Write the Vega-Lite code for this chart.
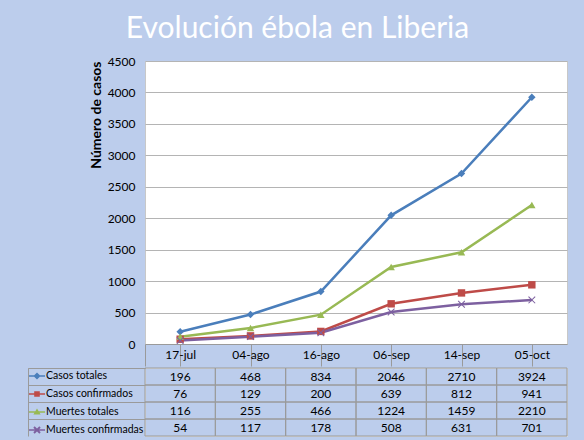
{
  "$schema": "https://vega.github.io/schema/vega-lite/v6.json",
  "background": "#bccdec",
  "padding": {"left": 27, "top": 13, "right": 18, "bottom": 4},
  "title": {
    "text": "Evolución ébola en Liberia",
    "font": "Lato",
    "fontSize": 30,
    "fontWeight": "normal",
    "color": "white",
    "anchor": "middle",
    "offset": 11
  },
  "datasets": {
    "ebola": [
      {"fecha": "17-jul", "serie": "Casos totales", "casos": 196},
      {"fecha": "04-ago", "serie": "Casos totales", "casos": 468},
      {"fecha": "16-ago", "serie": "Casos totales", "casos": 834},
      {"fecha": "06-sep", "serie": "Casos totales", "casos": 2046},
      {"fecha": "14-sep", "serie": "Casos totales", "casos": 2710},
      {"fecha": "05-oct", "serie": "Casos totales", "casos": 3924},
      {"fecha": "17-jul", "serie": "Casos confirmados", "casos": 76},
      {"fecha": "04-ago", "serie": "Casos confirmados", "casos": 129},
      {"fecha": "16-ago", "serie": "Casos confirmados", "casos": 200},
      {"fecha": "06-sep", "serie": "Casos confirmados", "casos": 639},
      {"fecha": "14-sep", "serie": "Casos confirmados", "casos": 812},
      {"fecha": "05-oct", "serie": "Casos confirmados", "casos": 941},
      {"fecha": "17-jul", "serie": "Muertes totales", "casos": 116},
      {"fecha": "04-ago", "serie": "Muertes totales", "casos": 255},
      {"fecha": "16-ago", "serie": "Muertes totales", "casos": 466},
      {"fecha": "06-sep", "serie": "Muertes totales", "casos": 1224},
      {"fecha": "14-sep", "serie": "Muertes totales", "casos": 1459},
      {"fecha": "05-oct", "serie": "Muertes totales", "casos": 2210},
      {"fecha": "17-jul", "serie": "Muertes confirmadas", "casos": 54},
      {"fecha": "04-ago", "serie": "Muertes confirmadas", "casos": 117},
      {"fecha": "16-ago", "serie": "Muertes confirmadas", "casos": 178},
      {"fecha": "06-sep", "serie": "Muertes confirmadas", "casos": 508},
      {"fecha": "14-sep", "serie": "Muertes confirmadas", "casos": 631},
      {"fecha": "05-oct", "serie": "Muertes confirmadas", "casos": 701}
    ]
  },
  "data": {"name": "ebola"},
  "resolve": {"scale": {"color": "independent", "shape": "independent"}},
  "spacing": 0,
  "vconcat": [
    {
      "width": 422,
      "height": 283,
      "view": {"fill": "white", "stroke": "#c8c8c8"},
      "encoding": {
        "x": {
          "field": "fecha",
          "type": "ordinal",
          "sort": ["17-jul", "04-ago", "16-ago", "06-sep", "14-sep", "05-oct"],
          "scale": {"paddingInner": 0, "paddingOuter": 0},
          "axis": {
            "title": null,
            "labelAngle": 0,
            "bandPosition": 0,
            "tickExtra": true,
            "tickSize": 22,
            "tickColor": "#9a9a9a",
            "domainColor": "#9a9a9a",
            "labelPadding": -17,
            "labelFont": "Lato",
            "labelFontSize": 12,
            "labelColor": "black"
          }
        },
        "y": {
          "field": "casos",
          "type": "quantitative",
          "scale": {"domain": [0, 4500], "nice": false},
          "axis": {
            "values": [0, 500, 1000, 1500, 2000, 2500, 3000, 3500, 4000, 4500],
            "format": "d",
            "title": "Número de casos",
            "titleFont": "Lato",
            "titleFontSize": 14,
            "titleFontWeight": "bold",
            "titleColor": "black",
            "titleAnchor": "end",
            "titlePadding": 4,
            "ticks": false,
            "domain": false,
            "labelPadding": 10,
            "labelFont": "Lato",
            "labelFontSize": 12,
            "labelColor": "black",
            "gridColor": "#b4b4b4"
          }
        },
        "color": {
          "field": "serie",
          "type": "nominal",
          "scale": {
            "domain": ["Casos totales", "Casos confirmados", "Muertes totales", "Muertes confirmadas"],
            "range": ["#4a7ebb", "#be4b48", "#98b954", "#7d60a0"]
          },
          "legend": null
        }
      },
      "layer": [
        {"mark": {"type": "line", "strokeWidth": 2.5}},
        {
          "mark": {"type": "point", "filled": true, "opacity": 1, "size": 55},
          "encoding": {
            "shape": {
              "field": "serie",
              "type": "nominal",
              "scale": {
                "domain": ["Casos totales", "Casos confirmados", "Muertes totales", "Muertes confirmadas"],
                "range": [
                  "diamond",
                  "square",
                  "triangle-up",
                  "M-0.8,-1L1,0.8L0.8,1L-1,-0.8Z M-1,0.8L0.8,-1L1,-0.8L-0.8,1Z"
                ]
              },
              "legend": null
            }
          }
        }
      ]
    },
    {
      "width": 422,
      "height": 68,
      "encoding": {
        "x": {
          "field": "fecha",
          "type": "ordinal",
          "sort": ["17-jul", "04-ago", "16-ago", "06-sep", "14-sep", "05-oct"],
          "scale": {"paddingInner": 0, "paddingOuter": 0},
          "axis": null
        },
        "y": {
          "field": "serie",
          "type": "nominal",
          "sort": ["Casos totales", "Casos confirmados", "Muertes totales", "Muertes confirmadas"],
          "scale": {"paddingInner": 0, "paddingOuter": 0},
          "axis": {
            "title": null,
            "labels": false,
            "offset": 117,
            "domain": true,
            "domainColor": "#9a9a9a",
            "bandPosition": 0,
            "tickExtra": true,
            "tickSize": -117,
            "tickColor": "#9a9a9a"
          }
        }
      },
      "layer": [
        {"mark": {"type": "rect", "filled": false, "stroke": "#9a9a9a", "strokeWidth": 1}},
        {
          "mark": {"type": "text", "font": "Lato", "fontSize": 12, "color": "black"},
          "encoding": {"text": {"field": "casos", "type": "quantitative", "format": "d"}}
        },
        {
          "mark": {"type": "point", "filled": true, "opacity": 0},
          "encoding": {
            "color": {
              "field": "serie",
              "type": "nominal",
              "scale": {
                "domain": ["Casos totales", "Casos confirmados", "Muertes totales", "Muertes confirmadas"],
                "range": ["#4a7ebb", "#be4b48", "#98b954", "#7d60a0"]
              },
              "legend": {
                "orient": "none",
                "legendX": -116,
                "legendY": 0,
                "title": null,
                "padding": 0,
                "rowPadding": 4,
                "labelOffset": 1,
                "labelFont": "Lato",
                "labelFontSize": 10.5,
                "labelColor": "black",
                "labelLimit": 110,
                "symbolSize": 256,
                "symbolStrokeWidth": 0,
                "encode": {"symbols": {"update": {"opacity": {"value": 1}}}}
              }
            },
            "shape": {
              "field": "serie",
              "type": "nominal",
              "scale": {
                "domain": ["Casos totales", "Casos confirmados", "Muertes totales", "Muertes confirmadas"],
                "range": [
                  "M-1,-0.1L1,-0.1L1,0.1L-1,0.1Z M0,-0.45L0.45,0L0,0.45L-0.45,0Z",
                  "M-1,-0.1L1,-0.1L1,0.1L-1,0.1Z M-0.35,-0.35L0.35,-0.35L0.35,0.35L-0.35,0.35Z",
                  "M-1,-0.1L1,-0.1L1,0.1L-1,0.1Z M0,-0.45L0.45,0.32L-0.45,0.32Z",
                  "M-1,-0.1L1,-0.1L1,0.1L-1,0.1Z M-0.29,-0.46L0.46,0.29L0.29,0.46L-0.46,-0.29Z M-0.46,0.29L0.29,-0.46L0.46,-0.29L-0.29,0.46Z"
                ]
              }
            }
          }
        }
      ]
    }
  ]
}
